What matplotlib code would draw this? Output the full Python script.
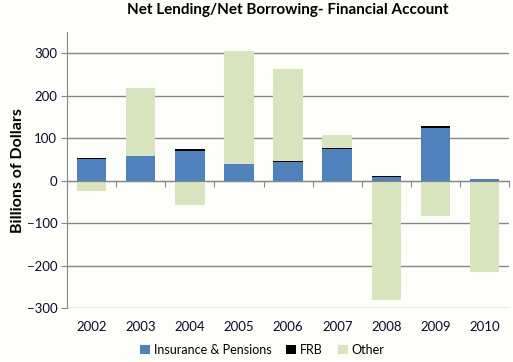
import numpy as np
import matplotlib.pyplot as plt

years = ["2002", "2003", "2004", "2005", "2006", "2007", "2008", "2009", "2010"]
insurance = [52, 58, 70, 39, 45, 74, 9, 124, 4]
frb = [1, 1, 4, 1, 1, 2, 3, 5, 0]
other = [-24, 160, -58, 266, 217, 32, -280, -84, -215]

BLUE = "#4f81bd"
GREEN = "#d7e4bd"
GRID = "#868686"
TEXT = "#0a0a28"


def main():
    plt.rcParams["font.family"] = ["Lato", "DejaVu Sans"]
    fig = plt.figure(figsize=(5.13, 3.62), dpi=100, facecolor="#fdfdfa")
    ax = fig.add_axes([0.1306, 0.149, 0.862, 0.762])
    ax.set_facecolor("#fdfdfa")

    x = np.arange(len(years))
    ins = np.array(insurance, dtype=float)
    fr = np.array(frb, dtype=float)
    oth = np.array(other, dtype=float)
    top = ins + fr
    other_bottom = np.where(oth > 0, top, 0)

    w = 0.6
    ax.bar(x, ins, w, color=BLUE, label="Insurance & Pensions", zorder=3)
    ax.bar(x, fr, w, bottom=ins, color="black", label="FRB", zorder=3)
    ax.bar(x, oth, w, bottom=other_bottom, color=GREEN, label="Other", zorder=3)

    ax.set_xlim(-0.5, len(years) - 0.5)
    ax.set_ylim(-300, 350)
    ax.set_yticks(range(-300, 301, 100))
    ax.yaxis.grid(True, color=GRID, linewidth=1.0, zorder=0)
    ax.tick_params(axis="y", length=4, color=GRID, labelsize=9.5,
                   labelcolor=TEXT, pad=3)

    for s in ["top", "right"]:
        ax.spines[s].set_visible(False)
    ax.spines["left"].set_color(GRID)
    ax.spines["bottom"].set_position(("data", 0))
    ax.spines["bottom"].set_color(GRID)
    ax.spines["bottom"].set_zorder(4)
    ax.set_xticks(np.arange(len(years) + 1) - 0.5)
    ax.tick_params(axis="x", length=4, color=GRID, labelbottom=False)

    sec = ax.secondary_xaxis(0)
    sec.set_xticks(x, labels=years)
    sec.tick_params(length=0, labelsize=9.5, labelcolor=TEXT, pad=9)
    sec.spines["bottom"].set_visible(False)

    ax.set_ylabel("Billions of Dollars", fontsize=11.5, fontweight="bold",
                  labelpad=1)
    ax.set_title("Net Lending/Net Borrowing- Financial Account",
                 fontsize=11, fontweight="bold", pad=13)

    fig.legend(loc="center", bbox_to_anchor=(0.511, 0.033), ncol=3,
               frameon=False, fontsize=9, handlelength=0.8, handleheight=0.8,
               handletextpad=0.3, columnspacing=1.2)

    fig.savefig("out.png", dpi=100, facecolor=fig.get_facecolor())


if __name__ == "__main__":
    main()
